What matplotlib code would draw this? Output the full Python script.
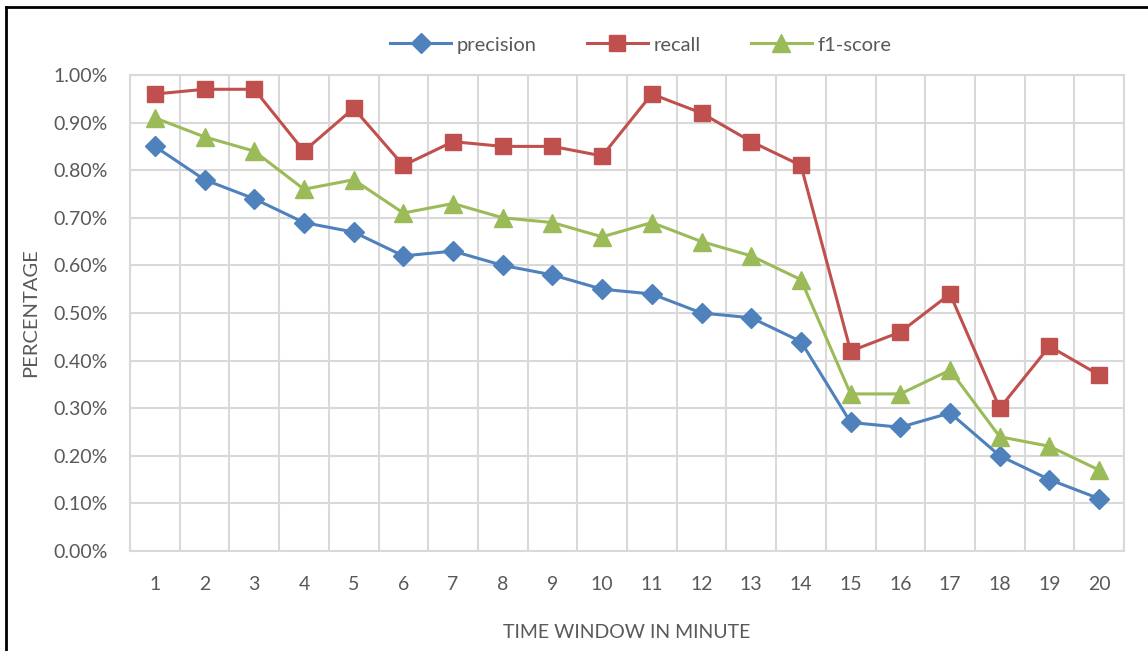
import matplotlib.pyplot as plt
from matplotlib.lines import Line2D
from matplotlib.ticker import FuncFormatter, MultipleLocator

plt.rcParams['font.family'] = ['Lato', 'DejaVu Sans']

windows = list(range(1, 21))
precision = [0.85, 0.78, 0.74, 0.69, 0.67, 0.62, 0.63, 0.60, 0.58, 0.55,
             0.54, 0.50, 0.49, 0.44, 0.27, 0.26, 0.29, 0.20, 0.15, 0.11]
recall = [0.96, 0.97, 0.97, 0.84, 0.93, 0.81, 0.86, 0.85, 0.85, 0.83,
          0.96, 0.92, 0.86, 0.81, 0.42, 0.46, 0.54, 0.30, 0.43, 0.37]
f1_score = [0.91, 0.87, 0.84, 0.76, 0.78, 0.71, 0.73, 0.70, 0.69, 0.66,
            0.69, 0.65, 0.62, 0.57, 0.33, 0.33, 0.38, 0.24, 0.22, 0.17]

text_col = '#595959'
grid_col = '#D9D9D9'

fig = plt.figure(figsize=(11.48, 6.51), dpi=100)
ax = fig.add_axes([130 / 1148, 100 / 651, 994 / 1148, 476 / 651])

ax.plot(windows, precision, color='#4F81BD', lw=2.2, marker='D', ms=10,
        label='precision', zorder=3)
ax.plot(windows, recall, color='#C0504D', lw=2.2, marker='s', ms=12,
        label='recall', zorder=3)
ax.plot(windows, f1_score, color='#9BBB59', lw=2.2, marker='^', ms=13,
        label='f1-score', zorder=3)

ax.set_xlim(0.5, 20.5)
ax.set_ylim(0, 1.0)
ax.set_xticks(windows)
ax.xaxis.set_minor_locator(MultipleLocator(1, offset=0.5))
ax.yaxis.set_major_locator(MultipleLocator(0.1))
ax.yaxis.set_major_formatter(FuncFormatter(lambda v, p: f'{v:.2f}%'))

ax.grid(True, which='major', axis='y', color=grid_col, lw=1.5)
ax.grid(True, which='minor', axis='x', color=grid_col, lw=1.5)
ax.set_axisbelow(True)
for s in ax.spines.values():
    s.set_color(grid_col)
    s.set_linewidth(1.5)

ax.tick_params(which='both', length=0, colors=text_col, labelsize=14)
ax.tick_params(axis='y', pad=16)
ax.tick_params(axis='x', pad=18)

ax.set_ylabel('PERCENTAGE', color=text_col, fontsize=14.5, labelpad=10)
ax.set_xlabel('TIME WINDOW IN MINUTE', color=text_col, fontsize=14,
              labelpad=22)

handles = [
    Line2D([], [], color='#4F81BD', lw=2.2, marker='D', ms=10),
    Line2D([], [], color='#C0504D', lw=2.2, marker='s', ms=12),
    Line2D([], [], color='#9BBB59', lw=2.2, marker='^', ms=13),
]
leg = fig.legend(handles, ['precision', 'recall', 'f1-score'], loc='center',
                 bbox_to_anchor=(641 / 1148, 1 - 45 / 651), ncol=3,
                 frameon=False, fontsize=14.5, handlelength=3.0,
                 handletextpad=0.3, columnspacing=2.5)
for t in leg.get_texts():
    t.set_color(text_col)

# outer frame (top and left edges)
fig.add_artist(Line2D([6 / 1148, 6 / 1148], [0, 1 - 7 / 651],
                      transform=fig.transFigure, color='black', lw=2))
fig.add_artist(Line2D([6 / 1148, 1], [1 - 7 / 651, 1 - 7 / 651],
                      transform=fig.transFigure, color='black', lw=2))

fig.savefig('out.png', dpi=100, facecolor='white')
